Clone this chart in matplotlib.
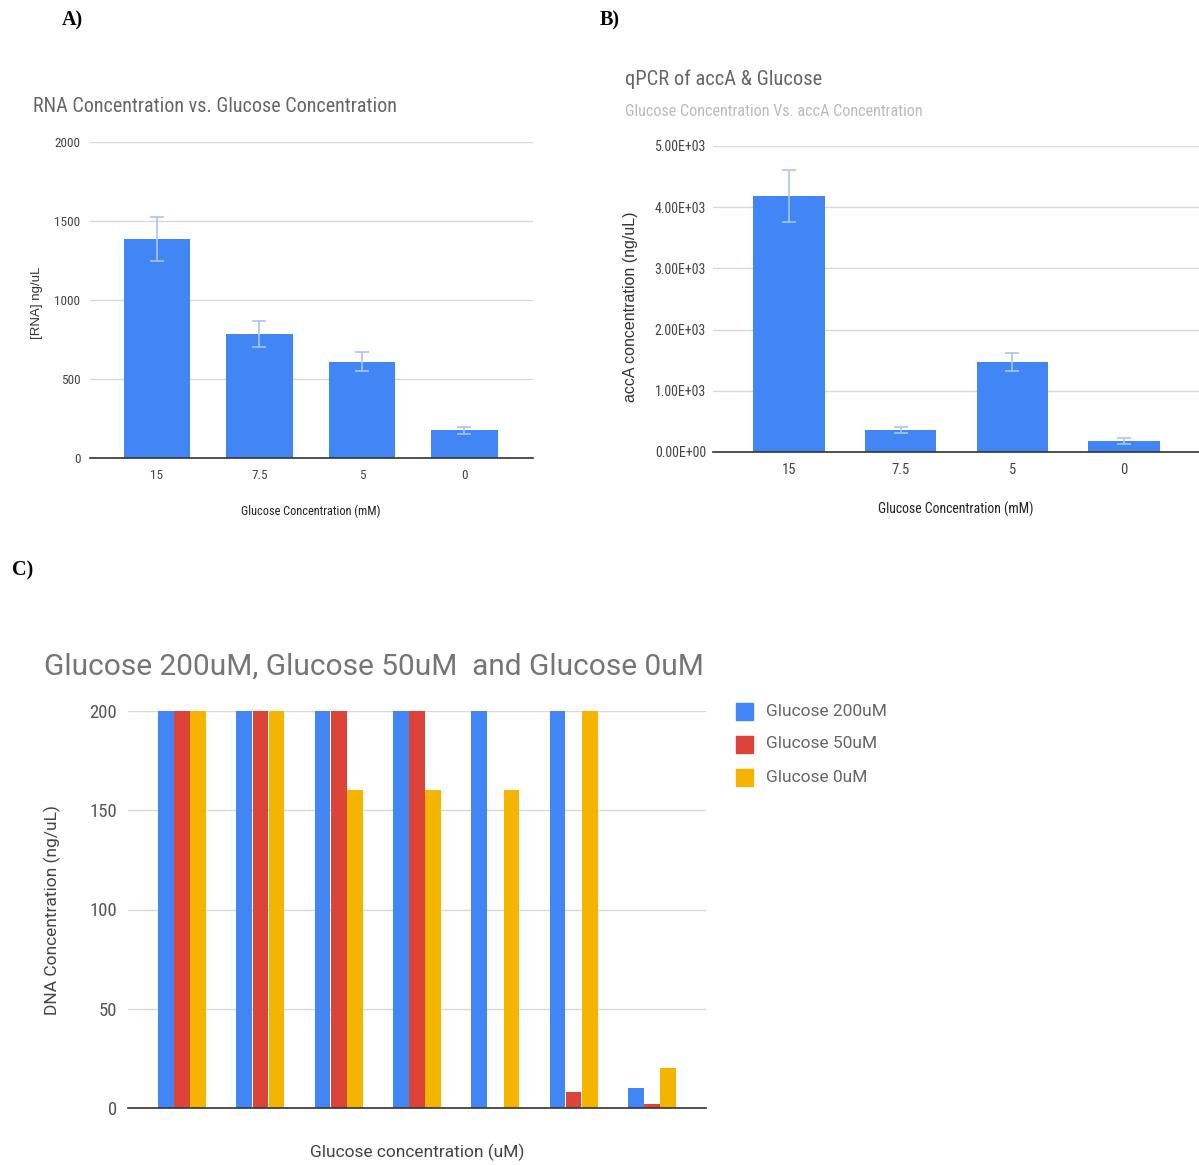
import matplotlib
matplotlib.use("Agg")
import matplotlib.pyplot as plt
import numpy as np

# ---- data ----
rna_categories = ["15", "7.5", "5", "0"]
rna_values = [1386, 785, 608, 177]
rna_errors = [139, 80, 60, 22]
rna_yticks = [0, 500, 1000, 1500, 2000]

acca_categories = ["15", "7.5", "5", "0"]
acca_values = [4183, 359, 1470, 180]
acca_errors = [420, 50, 150, 45]
acca_yticks = [0, 1000, 2000, 3000, 4000, 5000]
acca_yticklabels = ["0.00E+00", "1.00E+03", "2.00E+03", "3.00E+03", "4.00E+03", "5.00E+03"]

dna_series = ["Glucose 200uM", "Glucose 50uM", "Glucose 0uM"]
dna_200 = [200, 200, 200, 200, 200, 200, 10]
dna_50 = [200, 200, 200, 200, 0, 8, 2]
dna_0 = [200, 200, 160, 160, 160, 200, 20]
dna_yticks = [0, 50, 100, 150, 200]

BLUE = "#4285F4"
RED = "#DB4437"
YELLOW = "#F4B400"
ERR = "#A9C4F5"
GRID = "#D9D9D9"

NARROW = ["Roboto Condensed", "Roboto", "DejaVu Sans"]
ROBOTO = ["Roboto", "DejaVu Sans"]
ARIAL = ["Liberation Sans", "DejaVu Sans"]

W, H = 1199, 1165
fig = plt.figure(figsize=(W / 100, H / 100), dpi=100)


def px_axes(left, top, right, bottom):
    return fig.add_axes([left / W, 1 - bottom / H, (right - left) / W, (bottom - top) / H])


def style_axes(ax):
    for s in ["top", "right", "left"]:
        ax.spines[s].set_visible(False)
    ax.spines["bottom"].set_color("#333333")
    ax.spines["bottom"].set_linewidth(1.2)
    ax.yaxis.grid(True, color=GRID, linewidth=1)
    ax.set_axisbelow(True)
    ax.tick_params(length=0)


def ftext(x, y, s, **kw):
    fig.text(x / W, 1 - y / H, s, **kw)


# ---- panel labels ----
for lx, ly, lab in [(62, 20, "A)"), (600, 20, "B)"), (12, 570, "C)")]:
    ftext(lx, ly, lab, family=["Liberation Serif", "DejaVu Serif"], weight="bold",
          fontsize=14.5, va="center", ha="left", color="black")

# ---- panel A: RNA concentration ----
axA = px_axes(90, 142, 533, 458)
style_axes(axA)
xa = np.arange(len(rna_categories))
axA.bar(xa, rna_values, width=0.65, color=BLUE, zorder=2)
axA.errorbar(xa, rna_values, yerr=rna_errors, fmt="none", ecolor=ERR,
             elinewidth=1.2, capsize=5, capthick=1.2, zorder=3)
axA.set_xlim(-0.654, 3.67)
axA.set_ylim(0, 2000)
axA.set_yticks(rna_yticks)
axA.set_yticklabels([str(v) for v in rna_yticks], family=NARROW, fontsize=9.5, color="#444444")
axA.set_xticks(xa)
axA.set_xticklabels(rna_categories, family=NARROW, fontsize=9.5, color="#444444")
axA.tick_params(axis="y", pad=7)
axA.tick_params(axis="x", pad=8)
ftext(33, 106, "RNA Concentration vs. Glucose Concentration", family=NARROW,
      fontsize=14.5, color="#666666", va="center", ha="left")
ftext(311, 511, "Glucose Concentration (mM)", family=NARROW, fontsize=8.8,
      color="#222222", va="center", ha="center")
ftext(37, 303, "[RNA] ng/uL", family=ARIAL, fontsize=9.5, color="#333333",
      va="center", ha="center", rotation=90)

# ---- panel B: qPCR of accA ----
axB = px_axes(713, 146, 1199, 452)
style_axes(axB)
xb = np.arange(len(acca_categories))
axB.bar(xb, acca_values, width=0.64, color=BLUE, zorder=2)
axB.errorbar(xb, acca_values, yerr=acca_errors, fmt="none", ecolor=ERR,
             elinewidth=1.2, capsize=5, capthick=1.2, zorder=3)
axB.set_xlim(-0.68, 3.67)
axB.set_ylim(0, 5000)
axB.set_yticks(acca_yticks)
axB.set_yticklabels(acca_yticklabels, family=NARROW, fontsize=10, color="#444444")
axB.set_xticks(xb)
axB.set_xticklabels(acca_categories, family=NARROW, fontsize=10.5, color="#444444")
axB.tick_params(axis="y", pad=5)
axB.tick_params(axis="x", pad=8)
ftext(625, 79, "qPCR of accA & Glucose", family=NARROW, fontsize=14.8,
      color="#666666", va="center", ha="left")
ftext(625, 112, "Glucose Concentration Vs. accA Concentration", family=NARROW,
      fontsize=11.6, color="#BBBBBB", va="center", ha="left")
ftext(956, 509, "Glucose Concentration (mM)", family=NARROW, fontsize=9.9,
      color="#222222", va="center", ha="center")
ftext(631, 307, "accA concentration (ng/uL)", family=ARIAL, fontsize=11.5,
      color="#333333", va="center", ha="center", rotation=90)

# ---- panel C: DNA concentration ----
axC = px_axes(128, 711, 706, 1108)
style_axes(axC)
ngroups = len(dna_200)
xc = np.arange(ngroups)
bw = 0.2
for i, (vals, col, name) in enumerate(zip([dna_200, dna_50, dna_0],
                                          [BLUE, RED, YELLOW], dna_series)):
    axC.bar(xc + (i - 1) * 0.205, vals, width=bw, color=col, label=name, zorder=2)
axC.set_xlim(-0.69, 6.69)
axC.set_ylim(0, 200)
axC.set_yticks(dna_yticks)
axC.set_yticklabels([str(v) for v in dna_yticks], family=NARROW, fontsize=13.5, color="#555555")
axC.set_xticks([])
axC.tick_params(axis="y", pad=8)
ftext(44, 667, "Glucose 200uM, Glucose 50uM  and Glucose 0uM", family=ROBOTO,
      fontsize=21.5, color="#757575", va="center", ha="left")
ftext(417, 1152, "Glucose concentration (uM)", family=ROBOTO, fontsize=12.5,
      color="#444444", va="center", ha="center")
ftext(52, 910, "DNA Concentration (ng/uL)", family=ROBOTO, fontsize=12.5,
      color="#444444", va="center", ha="center", rotation=90)

# legend drawn as squares + labels to the right of the plot
for j, (name, col) in enumerate(zip(dna_series, [BLUE, RED, YELLOW])):
    yy = 711 + j * 33
    fig.patches.append(plt.Rectangle(((736) / W, 1 - (yy + 8.5) / H), 17 / W, 17 / H,
                                     transform=fig.transFigure, color=col))
    ftext(766, yy, name, family=ROBOTO, fontsize=12.5, color="#666666",
          va="center", ha="left")

fig.savefig("out.png", dpi=100, facecolor="white")
